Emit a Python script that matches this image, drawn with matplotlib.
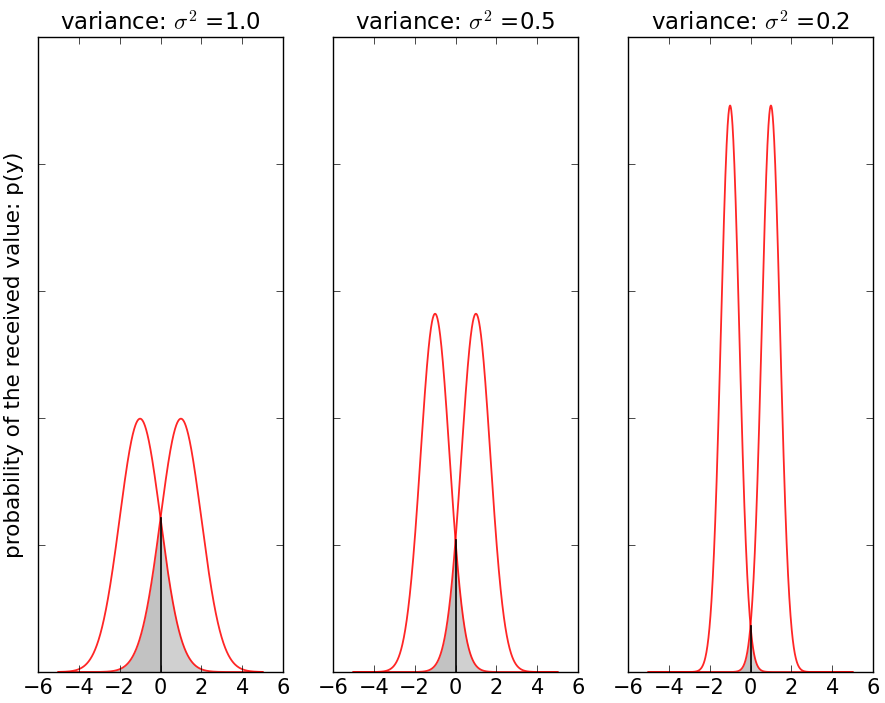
import matplotlib

matplotlib.use("Agg")
import matplotlib.pyplot as plt
import numpy as np

# Two transmitted symbols (+/-1) with Gaussian noise of decreasing variance
MEANS = [-1.0, 1.0]
VARIANCES = [1.0, 0.5, 0.2]
X_RANGE = (-5, 5)
X_TICKS = [-6, -4, -2, 0, 2, 4, 6]
Y_TICKS = [0.2, 0.4, 0.6, 0.8]


def gauss(x, mu, var):
    return np.exp(-(x - mu) ** 2 / (2 * var)) / np.sqrt(2 * np.pi * var)


def main():
    plt.style.use("classic")
    plt.rcParams["font.family"] = ["DejaVu Sans"]
    fig = plt.figure(figsize=(8.85, 7.03), dpi=100, facecolor="white")

    lefts = [38, 333, 628]
    x = np.linspace(X_RANGE[0], X_RANGE[1], 1001)
    for i, var in enumerate(VARIANCES):
        ax = fig.add_axes([lefts[i] / 885, 31 / 703, 245 / 885, 635 / 703])
        p_neg = gauss(x, MEANS[0], var)
        p_pos = gauss(x, MEANS[1], var)
        ax.plot(x, p_neg, color="red", lw=1.3, alpha=0.85)
        ax.plot(x, p_pos, color="red", lw=1.3, alpha=0.85)

        left = x <= 0
        right = x >= 0
        ax.fill_between(x[left], 0, p_pos[left], color="#a8a8a8", alpha=0.7, lw=0)
        ax.fill_between(x[right], 0, p_neg[right], color="#bcbcbc", alpha=0.7, lw=0)
        ax.plot([0, 0], [0, gauss(0, MEANS[0], var)], color="black", lw=1.2)

        ax.set_xlim(-6, 6)
        ax.set_ylim(0, 1.0)
        ax.set_xticks(X_TICKS)
        ax.set_yticks(Y_TICKS)
        ax.set_yticklabels([])
        ax.tick_params(labelsize=15, direction="in", length=5)
        ax.set_title(r"variance: $\sigma^2$ =%.1f" % var, fontsize=16.5)
        if i == 0:
            ax.set_ylabel("probability of the received value: p(y)", fontsize=15.5,
                          labelpad=6)

    fig.savefig("out.png", dpi=100, facecolor="white")


if __name__ == "__main__":
    main()
